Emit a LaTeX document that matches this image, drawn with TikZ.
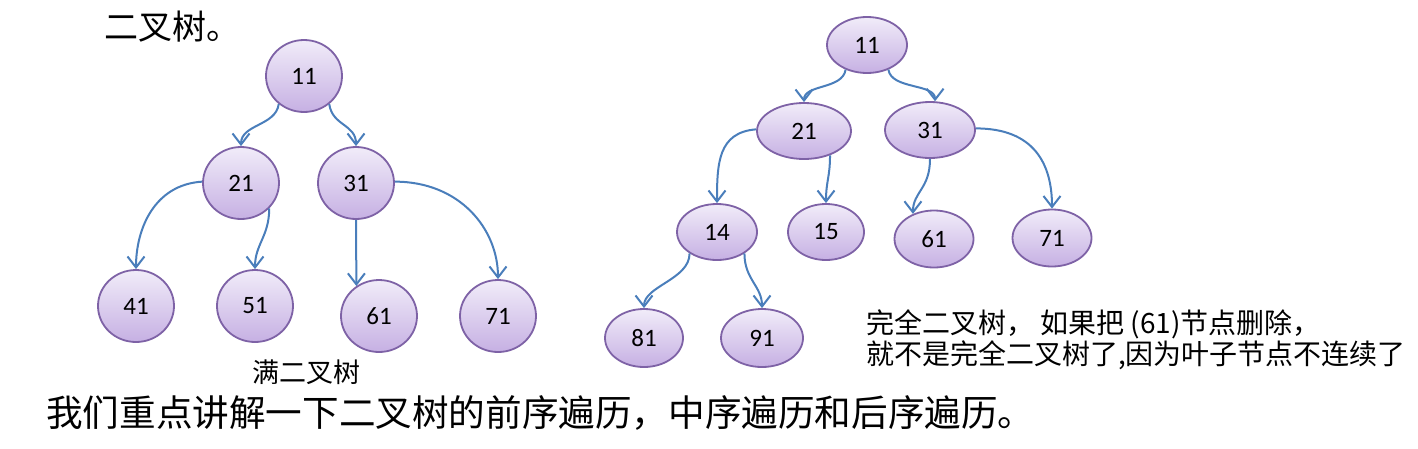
\documentclass[tikz,border=0pt]{standalone}
\usepackage{fontspec}
\setmainfont{Carlito}
\newfontfamily\cjk{Noto Sans CJK SC}
\usetikzlibrary{shapes.geometric,arrows.meta}
\definecolor{nodeborder}{HTML}{7E62A6}
\definecolor{nodetop}{HTML}{F1ECF9}
\definecolor{nodebot}{HTML}{C6B0E3}
\definecolor{edgeblue}{HTML}{4A7EBB}
\tikzset{
 tn/.style={ellipse, draw=nodeborder, line width=1.8pt, top color=nodetop, bottom color=nodebot, inner sep=0pt, font=\fontsize{25}{27}\selectfont},
 ln/.style={tn, minimum width=76pt, minimum height=72pt},
 ed/.style={draw=edgeblue, line width=2pt, -{Straight Barb[length=11pt,width=17pt,line width=2pt]}},
 cjktext/.style={inner sep=0pt, font=\cjk\fontsize{#1}{31}\selectfont},
}
\begin{document}
\begin{tikzpicture}[x=1pt,y=-1pt]
\useasboundingbox (0,0) rectangle (1418,448);
% left tree
\node[ln] (l11) at (304,76) {11};
\node[ln] (l21) at (241,183) {21};
\node[ln] (l31) at (356,183) {31};
\node[ln] (l41) at (136,306) {41};
\node[ln] (l51) at (255,306) {51};
\node[ln] (l61) at (379,316) {61};
\node[ln] (l71) at (498,316) {71};
\draw[ed] (l11.228) .. controls +(-3,22) and +(0,-22) .. (l21.north);
\draw[ed] (l11.312) .. controls +(3,22) and +(0,-22) .. (l31.north);
\draw[ed] (l21.178) .. controls +(-48,3) and +(0,-40) .. (l41.north);
\draw[ed] (l21.318) .. controls +(0,28) and +(0,-25) .. (l51.north);
\draw[ed] (l31.south) .. controls +(0,30) and +(0,-24) .. (l61.127);
\draw[ed] (l31.2) .. controls +(65,0) and +(0,-50) .. (l71.north);
% right tree
\node[tn, minimum width=80pt, minimum height=56pt] (r11) at (867,45) {11};
\node[tn, minimum width=94pt, minimum height=56pt] (r21) at (804,131) {21};
\node[tn, minimum width=90pt, minimum height=56pt] (r31) at (930,130) {31};
\node[tn, minimum width=80pt, minimum height=56pt] (r14) at (717,232) {14};
\node[tn, minimum width=76pt, minimum height=56pt] (r15) at (826,232) {15};
\node[tn, minimum width=79pt, minimum height=57pt] (r61) at (934,239) {61};
\node[tn, minimum width=79pt, minimum height=57pt] (r71) at (1052,238) {71};
\node[tn, minimum width=78pt, minimum height=58pt] (r81) at (644,338) {81};
\node[tn, minimum width=82pt, minimum height=58pt] (r91) at (762,338) {91};
\draw[ed] (r11.229) .. controls +(-3,20) and +(0,-18) .. (r21.north);
\draw[ed] (r11.311) .. controls +(3,20) and +(0,-18) .. (r31.80);
\draw[ed] (r21.178) .. controls +(-38,3) and +(0,-40) .. (r14.north);
\draw[ed] (r21.317) .. controls +(0,22) and +(0,-22) .. (r15.north);
\draw[ed] (r31.south) .. controls +(0,30) and +(0,-22) .. (r61.130);
\draw[ed] (r31.2) .. controls +(58,0) and +(0,-45) .. (r71.north);
\draw[ed] (r14.218) .. controls +(0,26) and +(0,-22) .. (r81.north);
\draw[ed] (r14.322) .. controls +(0,26) and +(0,-22) .. (r91.north);
% texts
\node[cjktext=34, anchor=west] (t1) at (104,27) {二叉树。};
\node[cjktext=27] (cap1) at (306,372) {满二叉树};
\node[cjktext=28, anchor=west, align=left] (cap2) at (866,340) {完全二叉树， 如果把 (61)节点删除，\\就不是完全二叉树了,因为叶子节点不连续了};
\node[cjktext=36.6, anchor=west] (t2) at (46,413) {我们重点讲解一下二叉树的前序遍历，中序遍历和后序遍历。};
\end{tikzpicture}
\end{document}
